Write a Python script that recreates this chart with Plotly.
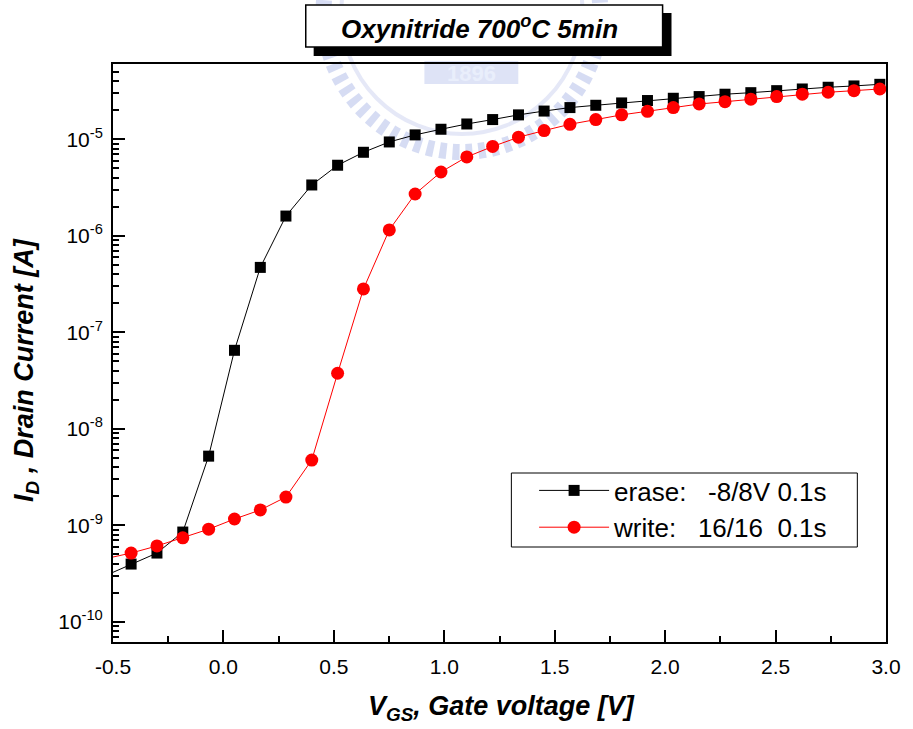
import plotly.graph_objects as go

# Gate voltage sweep (V); the first sample sits just left of the visible axis range
vgs = [-0.535, -0.418, -0.301, -0.184, -0.067, 0.050, 0.167, 0.283, 0.400, 0.517,
       0.634, 0.751, 0.868, 0.985, 1.102, 1.219, 1.336, 1.452, 1.569, 1.686,
       1.803, 1.920, 2.037, 2.154, 2.271, 2.388, 2.505, 2.621, 2.738, 2.855, 2.972]

# Drain current after erase (-8/8V, 0.1s), in A
id_erase = [3.0e-10, 3.96e-10, 5.15e-10, 8.5e-10, 5.2e-9, 6.5e-8, 4.7e-7, 1.60e-6, 3.36e-6, 5.38e-6,
            7.33e-6, 9.38e-6, 1.11e-5, 1.27e-5, 1.44e-5, 1.60e-5, 1.79e-5, 1.96e-5, 2.13e-5, 2.25e-5,
            2.38e-5, 2.52e-5, 2.66e-5, 2.77e-5, 2.93e-5, 3.04e-5, 3.19e-5, 3.32e-5, 3.46e-5, 3.57e-5, 3.71e-5]

# Drain current after write (16/16, 0.1s), in A
id_write = [4.5e-10, 5.15e-10, 6.1e-10, 7.4e-10, 9.1e-10, 1.16e-9, 1.44e-9, 1.96e-9, 4.74e-9, 3.76e-8,
            2.81e-7, 1.15e-6, 2.71e-6, 4.58e-6, 6.56e-6, 8.42e-6, 1.05e-5, 1.23e-5, 1.43e-5, 1.60e-5,
            1.79e-5, 1.95e-5, 2.13e-5, 2.32e-5, 2.45e-5, 2.60e-5, 2.77e-5, 2.93e-5, 3.07e-5, 3.19e-5, 3.32e-5]

series_names = ["erase:\u00a0\u00a0\u00a0-8/8V 0.1s", "write:\u00a0\u00a0\u00a016/16\u00a0\u00a00.1s"]

x_tick_vals = [-0.5, 0.0, 0.5, 1.0, 1.5, 2.0, 2.5, 3.0]
x_tick_text = ["-0.5", "0.0", "0.5", "1.0", "1.5", "2.0", "2.5", "3.0"]
y_tick_vals = [1e-10, 1e-9, 1e-8, 1e-7, 1e-6, 1e-5]
y_tick_text = ["10<sup>-10</sup>", "10<sup>-9</sup>", "10<sup>-8</sup>",
               "10<sup>-7</sup>", "10<sup>-6</sup>", "10<sup>-5</sup>"]

title_text = "Oxynitride 700<sup>o</sup>C 5min"
x_title = "V<sub>GS</sub>, Gate voltage [V]"
y_title = "I<sub>D</sub> , Drain Current [A]"

W, H = 913, 729
L, R, T, B = 113, 18, 64, 87
PW, PH = W - L - R, H - T - B


def fx(px):
    return (px - L) / PW


def fy(py):
    return (H - B - py) / PH


FONT = "Liberation Sans, Arial, sans-serif"

fig = go.Figure()
fig.add_trace(go.Scatter(
    x=vgs, y=id_erase, name=series_names[0], mode="lines+markers",
    line=dict(color="black", width=1),
    marker=dict(symbol="square", size=11, color="black"),
    legendgroup="a",
))
fig.add_trace(go.Scatter(
    x=vgs, y=id_write, name=series_names[1], mode="lines+markers",
    line=dict(color="#ff0000", width=1),
    marker=dict(symbol="circle", size=13, color="#ff0000"),
    legendgroup="b",
))

minor_y = [m * 10.0 ** e for e in range(-11, -3) for m in range(2, 10)]

fig.update_xaxes(
    range=[-0.5, 3.0], tickmode="array", tickvals=x_tick_vals, ticktext=x_tick_text,
    ticks="inside", ticklen=12, tickwidth=1.5, tickcolor="black",
    minor=dict(tickvals=[-0.25, 0.25, 0.75, 1.25, 1.75, 2.25, 2.75], ticks="inside",
               ticklen=6, tickwidth=1.5, tickcolor="black"),
    showline=True, linecolor="black", linewidth=2, mirror=True,
    showgrid=False, zeroline=False,
    tickfont=dict(family=FONT, size=21, color="black"),
    ticklabelstandoff=5,
)
fig.update_yaxes(
    type="log", range=[-10.21, -4.22], tickmode="array", tickvals=y_tick_vals, ticktext=y_tick_text,
    ticks="inside", ticklen=12, tickwidth=1.5, tickcolor="black",
    minor=dict(tickvals=minor_y, ticks="inside", ticklen=6, tickwidth=1.5, tickcolor="black"),
    showline=True, linecolor="black", linewidth=2, mirror=True,
    showgrid=False, zeroline=False,
    tickfont=dict(family=FONT, size=21, color="black"),
    ticklabelstandoff=4,
)

shapes = []
# faint gear-shaped emblem behind the upper part of the chart
cx, cy, rad = 466, 12, 148
shapes.append(dict(type="circle", xref="paper", yref="paper", layer="below",
                   x0=fx(cx - rad + 8), x1=fx(cx + rad - 8), y0=fy(cy + rad - 8), y1=fy(cy - rad + 8),
                   line=dict(color="rgba(120,140,215,0.30)", width=16, dash="7px,6px")))
shapes.append(dict(type="circle", xref="paper", yref="paper", layer="below",
                   x0=fx(cx - rad + 26), x1=fx(cx + rad - 26), y0=fy(cy + rad - 26), y1=fy(cy - rad + 26),
                   line=dict(color="rgba(150,165,225,0.25)", width=4)))
shapes.append(dict(type="rect", xref="paper", yref="paper", layer="below",
                   x0=fx(428), x1=fx(523), y0=fy(84), y1=fy(61),
                   fillcolor="rgba(160,175,230,0.35)", line=dict(width=0)))
# boxed heading with drop shadow
shapes.append(dict(type="rect", xref="paper", yref="paper", layer="above",
                   x0=fx(316), x1=fx(678), y0=fy(56), y1=fy(13),
                   fillcolor="black", line=dict(width=0)))
shapes.append(dict(type="rect", xref="paper", yref="paper", layer="above",
                   x0=fx(308), x1=fx(669), y0=fy(47), y1=fy(5),
                   fillcolor="white", line=dict(color="black", width=1.5)))
# legend frame
shapes.append(dict(type="rect", xref="paper", yref="paper", layer="below",
                   x0=fx(516), x1=fx(866), y0=fy(547), y1=fy(473),
                   fillcolor="white", line=dict(color="black", width=1)))

annotations = [
    dict(text="1896", xref="paper", yref="paper", x=fx(476), y=fy(73), showarrow=False,
         font=dict(family=FONT, size=22, color="rgba(235,240,252,0.9)", weight="bold"),
         xanchor="center", yanchor="middle"),
    dict(text=title_text, xref="paper", yref="paper", x=fx(484), y=fy(28), showarrow=False,
         font=dict(family=FONT, size=26, color="black", weight="bold", style="italic"),
         xanchor="center", yanchor="middle"),
    dict(text=x_title, xref="paper", yref="paper", x=fx(506), y=fy(708), showarrow=False,
         font=dict(family=FONT, size=27, color="black", weight="bold", style="italic"),
         xanchor="center", yanchor="middle"),
    dict(text=y_title, xref="paper", yref="paper", x=fx(25), y=fy(370), showarrow=False,
         textangle=-90,
         font=dict(family=FONT, size=27, color="black", weight="bold", style="italic"),
         xanchor="center", yanchor="middle"),
]

fig.update_layout(
    width=W, height=H,
    margin=dict(l=L, r=R, t=T, b=B),
    paper_bgcolor="white", plot_bgcolor="white",
    showlegend=True,
    legend=dict(
        x=fx(539), y=fy(467), xanchor="left", yanchor="top",
        bgcolor="rgba(0,0,0,0)", borderwidth=0,
        font=dict(family=FONT, size=26, color="black"),
        traceorder="grouped", tracegroupgap=0, itemwidth=70,
    ),
    shapes=shapes,
    annotations=annotations,
)

fig.write_html("out.html")
